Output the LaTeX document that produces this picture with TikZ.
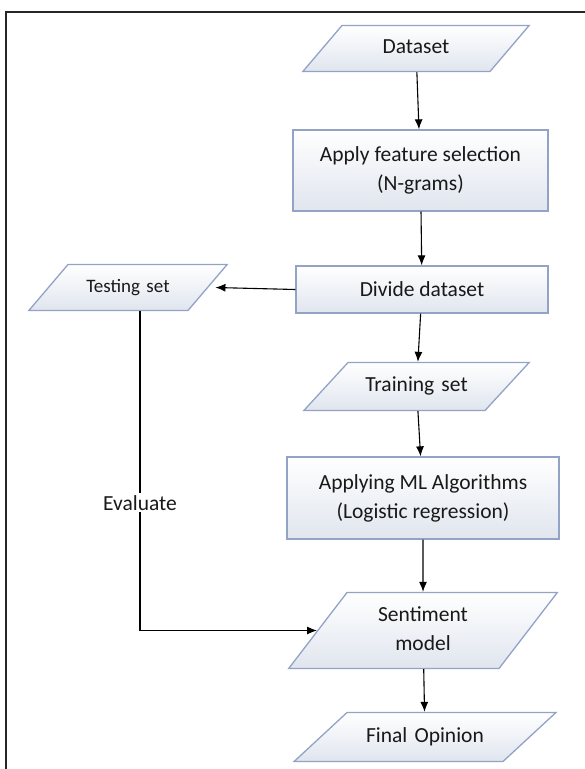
\documentclass[tikz,border=0pt]{standalone}
\usepackage{fontspec}
\setmainfont{Carlito}
\usepackage{tikz}
\usetikzlibrary{shapes.geometric}
\usetikzlibrary{arrows.meta}
\usetikzlibrary{calc}

\definecolor{edgeblue}{RGB}{146,163,198}
\definecolor{fillgrey}{RGB}{224,229,238}
\definecolor{inkgrey}{RGB}{25,25,25}

\begin{document}
\begin{tikzpicture}[x=1pt,y=-1pt,
        procbox/.style={rectangle,draw=edgeblue,line width=1.3pt,top color=white,bottom color=fillgrey,
            align=center,text=inkgrey,inner sep=0pt,font=\fontsize{21.5}{29}\selectfont},
        iobox/.style={trapezium,trapezium left angle=#1,trapezium right angle=180-#1,
            draw=edgeblue,line width=1.3pt,top color=white,bottom color=fillgrey,
            align=center,text=inkgrey,inner xsep=0pt,text height=15pt,text depth=5pt,
            font=\fontsize{21.5}{29}\selectfont},
        flow/.style={-{Latex[length=10pt,width=8pt]},line width=1.1pt,black}]
    \useasboundingbox (0,0) rectangle (585,769);

    % page frame
    \draw[line width=1.8pt,black!85] (6,769) |- (585,12);

    \node[iobox=49.6,text width=148pt,inner ysep=13pt] (data) at (416,48.5) {Dataset};
    \node[procbox,minimum width=255pt,minimum height=81pt] (feat) at (420.5,170.5) {Apply feature selection\\(N-grams)};
    \node[procbox,minimum width=252pt,minimum height=47pt] (divide) at (422,289.5) {Divide dataset};
    \node[iobox=49.6,text width=120pt,inner ysep=13pt,font=\fontsize{19}{24}\selectfont] (test) at (128,287.5) {Testing set};
    \node[iobox=47.4,text width=137pt,inner ysep=14pt] (train) at (416.5,386.5) {Training set};
    \node[procbox,minimum width=272pt,minimum height=82pt] (ml) at (423,498) {Applying ML Algorithms\\(Logistic regression)};
    \node[iobox=52.5,text width=152pt,text depth=34pt,inner ysep=13.5pt] (senti) at (423,630.5) {Sentiment\\model};
    \node[iobox=42.8,text width=156pt,inner ysep=14.5pt] (final) at (425,737) {Final Opinion};

    \draw[flow] (data) -- (feat);
    \draw[flow] (feat) -- (divide);
    \draw[flow] (divide.west) -- ([xshift=7pt]test.east);
    \draw[flow] (divide) -- (train);
    \draw[flow] (train) -- (ml);
    \draw[flow] (ml) -- (senti);
    \draw[flow] (senti) -- (final);
    \draw[flow] ([xshift=12pt]test.south) |- (senti.west)
        node[pos=0.3,fill=white,inner sep=2pt,text=inkgrey,font=\fontsize{21.5}{29}\selectfont] {Evaluate};
\end{tikzpicture}
\end{document}
